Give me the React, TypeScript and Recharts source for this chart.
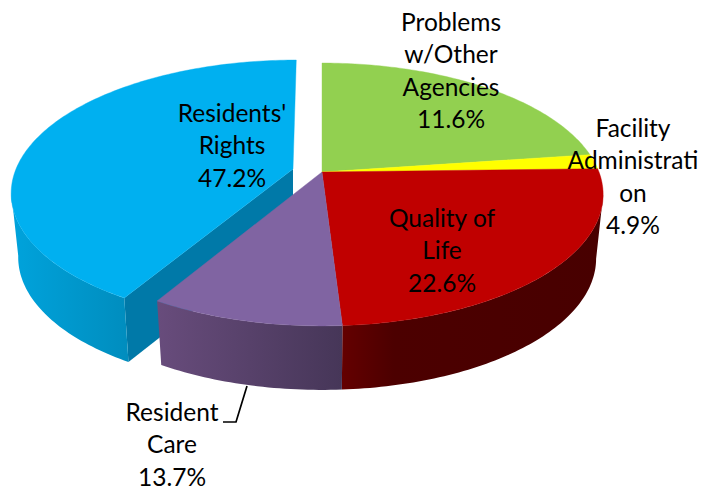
import React from "react";
import { PieChart, Pie } from "recharts";

const sliceNames = ["Residents' Rights", "Problems w/Other Agencies", "Facility Administration", "Quality of Life", "Resident Care"];
const printedLabels = ["47.2%", "11.6%", "4.9%", "22.6%", "13.7%"];
const labelLines = [
  ["Residents'", "Rights"],
  ["Problems", "w/Other", "Agencies"],
  ["Facility", "Administrati", "on"],
  ["Quality of", "Life"],
  ["Resident", "Care"],
];
const drawnArcDegrees = [149.5, 82, 6.5, 88, 34];

const topColors = ["#00B0F0", "#92D050", "#FFFF00", "#C00000", "#8064A2"];
const wallFills = ["url(#wallBlue)", "#6d9c3c", "#bfbf00", "url(#wallRed)", "url(#wallPurple)"];

const chartData = sliceNames.map((name, i) => ({ name, value: drawnArcDegrees[i], fill: topColors[i] }));

// Projection of the tilted disc
const APEX_X = 322;
const APEX_Y = 172;
const RX = 277;
const RY = 127.6;
const PERSPECTIVE = 0.171;
const DEPTH = 64;
const BASE_SCALE = 0.975;
const FIRST_ANGLE = 210.5;
const WALL_FROM = 100;
const WALL_TO = 260;

const sliceOffsets = [
  { dx: -29, dy: -3, shear: 0.03 },
  { dx: 0, dy: 0, shear: 0 },
  { dx: 0, dy: 0, shear: 0 },
  { dx: 0, dy: 0, shear: 0 },
  { dx: 0, dy: 0, shear: 0 },
];

const labelLayout = [
  { x: 232, y: 122 },
  { x: 451, y: 31 },
  { x: 633, y: 137 },
  { x: 442, y: 227 },
  { x: 172, y: 421 },
];
const LINE_STEP = 32.4;
const leaderPath = "M223 422 L236 422 L247 386";

type Pt = [number, number];

function project(theta: number, index: number, base: boolean): Pt {
  const t = (theta * Math.PI) / 180;
  const s = 1 / (1 + PERSPECTIVE * Math.cos(t));
  let px = RX * Math.sin(t) * s;
  const py = -RY * Math.cos(t) * s;
  const o = sliceOffsets[index];
  px -= py * o.shear;
  if (base) px *= BASE_SCALE;
  return [APEX_X + o.dx + px, APEX_Y + o.dy + py + (base ? DEPTH : 0)];
}

function arc(a: number, b: number, index: number, base: boolean): Pt[] {
  const pts: Pt[] = [];
  const n = Math.max(2, Math.ceil(Math.abs(b - a)));
  for (let i = 0; i <= n; i++) pts.push(project(a + ((b - a) * i) / n, index, base));
  return pts;
}

const toPath = (pts: Pt[]) => "M" + pts.map((p) => `${p[0].toFixed(2)} ${p[1].toFixed(2)}`).join(" L") + " Z";

function thetaRange(props: any): [number, number] {
  let a = 90 - props.startAngle;
  let b = 90 - props.endAngle;
  if (a >= 360) {
    a -= 360;
    b -= 360;
  }
  return [a, b];
}

function WallShape(props: any) {
  const index = chartData.findIndex((d) => d.name === props.name || d.name === props.payload?.name);
  const [a, b] = thetaRange(props);
  const lo = Math.max(a, WALL_FROM);
  const hi = Math.min(b, WALL_TO);
  const o = sliceOffsets[0];
  return (
    <g>
      {index === 0 && (
        <path
          d={toPath([project(a, 0, false), project(a, 0, true), [APEX_X + o.dx, APEX_Y + o.dy + DEPTH], [APEX_X + o.dx, APEX_Y + o.dy]])}
          fill="#0079A8"
        />
      )}
      {hi > lo && <path d={toPath([...arc(lo, hi, index, false), ...arc(hi, lo, index, true)])} fill={wallFills[index]} />}
    </g>
  );
}

function TopShape(props: any) {
  const index = chartData.findIndex((d) => d.name === props.name || d.name === props.payload?.name);
  const [a, b] = thetaRange(props);
  const o = sliceOffsets[index];
  const pts: Pt[] = [[APEX_X + o.dx, APEX_Y + o.dy], ...arc(a, b, index, false)];
  return <path d={toPath(pts)} fill={topColors[index]} stroke={topColors[index]} strokeWidth={0.4} />;
}

function SliceLabel(props: any) {
  const { index } = props;
  const pos = labelLayout[index];
  const lines = [...labelLines[index], printedLabels[index]];
  return (
    <g>
      {index === 4 && <path d={leaderPath} fill="none" stroke="#000" strokeWidth={1.7} />}
      <text textAnchor="middle" fontFamily="Lato, Carlito, sans-serif" fontSize={24.5} fill="#000">
        {lines.map((line, i) => (
          <tspan key={i} x={pos.x} y={pos.y + i * LINE_STEP}>
            {line}
          </tspan>
        ))}
      </text>
    </g>
  );
}

export default function App() {
  const angles = { startAngle: 90 - FIRST_ANGLE, endAngle: 90 - FIRST_ANGLE - 360 };
  return (
    <div style={{ position: "absolute", left: 0, top: 0, width: 701, height: 491, background: "#fff", overflow: "hidden" }}>
      <PieChart width={701} height={491} margin={{ top: 0, right: 0, bottom: 0, left: 0 }}>
        <defs>
          <linearGradient id="wallBlue" x1="0" y1="0" x2="1" y2="0">
            <stop offset="0" stopColor="#00A3DC" />
            <stop offset="1" stopColor="#008DBE" />
          </linearGradient>
          <linearGradient id="wallPurple" x1="0" y1="0" x2="1" y2="0">
            <stop offset="0" stopColor="#684C7C" />
            <stop offset="1" stopColor="#463658" />
          </linearGradient>
          <linearGradient id="wallRed" x1="0" y1="0" x2="1" y2="0">
            <stop offset="0" stopColor="#640000" />
            <stop offset="0.2" stopColor="#4C0000" />
            <stop offset="1" stopColor="#480000" />
          </linearGradient>
        </defs>
        <Pie
          data={chartData}
          dataKey="value"
          nameKey="name"
          cx={APEX_X}
          cy={APEX_Y}
          outerRadius={RX}
          {...angles}
          isAnimationActive={false}
          shape={WallShape}
          label={false}
          labelLine={false}
          stroke="none"
        />
        <Pie
          data={chartData}
          dataKey="value"
          nameKey="name"
          cx={APEX_X}
          cy={APEX_Y}
          outerRadius={RX}
          {...angles}
          isAnimationActive={false}
          shape={TopShape}
          label={SliceLabel}
          labelLine={false}
          stroke="none"
        />
      </PieChart>
    </div>
  );
}
